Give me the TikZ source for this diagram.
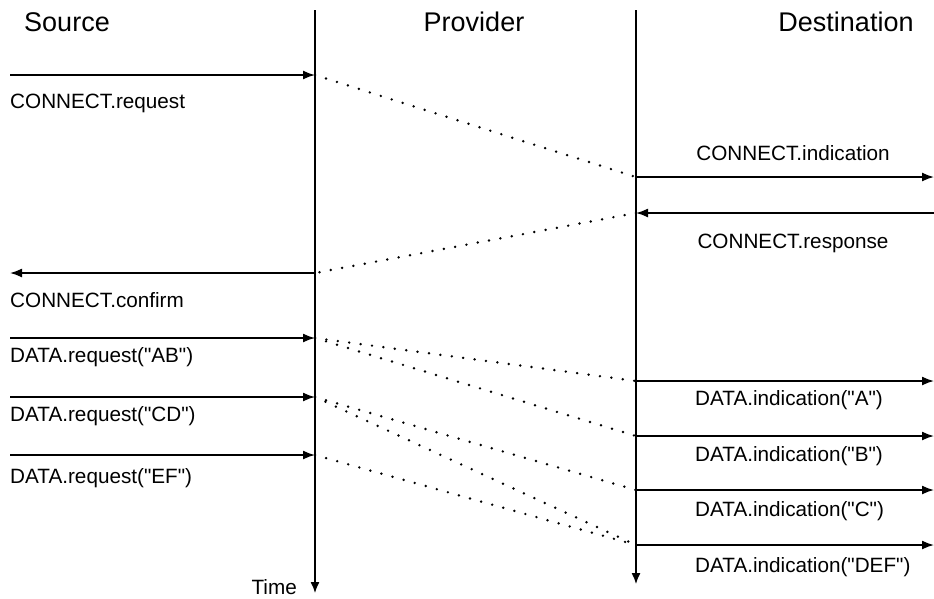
\documentclass[tikz,border=0pt]{standalone}
\usepackage{fontspec}
\setmainfont{Liberation Sans}[Ligatures=TeXOff]
\usetikzlibrary{positioning,arrows.meta}

\begin{document}
\begin{tikzpicture}[x=1pt,y=-1pt,
    msg/.style={line width=1.6pt,-{Latex[length=12pt,width=9pt]}},
    life/.style={line width=1.3pt,-{Latex[length=11pt,width=9pt]}},
    pdu/.style={line width=2.7pt,line cap=round,dash pattern=on 0pt off 11.5pt},
    lbl/.style={font=\fontsize{20.7}{24}\selectfont,inner sep=0pt},
    hdr/.style={font=\fontsize{27}{32}\selectfont,inner sep=0pt}]
    \useasboundingbox (0,0) rectangle (934,598);
    % Lifelines
    \coordinate (srcTop) at (315,10);
    \coordinate (srcEnd) at (315,593);
    \coordinate (dstTop) at (636,10);
    \coordinate (dstEnd) at (636,584);
    \draw[life] (srcTop) -- (srcEnd);
    \draw[life] (dstTop) -- (dstEnd);
    \node[hdr] (source) at (67,22) {Source};
    \node[hdr] (provider) at (474,22) {Provider};
    \node[hdr] (dest) at (846,22) {Destination};
    \node[lbl,anchor=east] (time) at (297,587) {Time};
    % Points on the lifelines
    \coordinate (conReq) at (315,75);
    \coordinate (conInd) at (636,177);
    \coordinate (conRsp) at (636,213);
    \coordinate (conCnf) at (315,273);
    \coordinate (reqAB) at (315,338);
    \coordinate (reqCD) at (315,397);
    \coordinate (reqEF) at (315,455);
    \coordinate (indA) at (636,381);
    \coordinate (indB) at (636,436);
    \coordinate (indC) at (636,490);
    \coordinate (indDEF) at (636,545);
    % Free ends
    \coordinate (userReq) at (10,75);
    \coordinate (userInd) at (934,177);
    \coordinate (userRsp) at (934,213);
    \coordinate (userCnf) at (10,273);
    \coordinate (userAB) at (10,338);
    \coordinate (userCD) at (10,397);
    \coordinate (userEF) at (10,455);
    \coordinate (userA) at (934,381);
    \coordinate (userB) at (934,436);
    \coordinate (userC) at (934,490);
    \coordinate (userDEF) at (934,545);
    % Connection set-up
    \draw[msg] (userReq) -- (conReq);
    \node[lbl,anchor=west] (lblReq) at (10,103) {CONNECT.request};
    \draw[pdu] (conReq) -- (conInd);
    \draw[msg] (conInd) -- (userInd);
    \node[lbl] (lblInd) at (793,153) {CONNECT.indication};
    \draw[msg] (userRsp) -- (conRsp);
    \node[lbl] (lblRsp) at (793,243) {CONNECT.response};
    \draw[pdu] (conRsp) -- (conCnf);
    \draw[msg] (conCnf) -- (userCnf);
    \node[lbl,anchor=west] (lblCnf) at (10,300) {CONNECT.confirm};
    % Data transfer
    \draw[msg] (userAB) -- (reqAB);
    \node[lbl,anchor=west] (lblAB) at (10,357) {DATA.request("AB")};
    \draw[msg] (userCD) -- (reqCD);
    \node[lbl,anchor=west] (lblCD) at (10,416) {DATA.request("CD")};
    \draw[msg] (userEF) -- (reqEF);
    \node[lbl,anchor=west] (lblEF) at (10,478) {DATA.request("EF")};
    \draw[pdu] (reqAB) -- (indA);
    \draw[pdu] (reqAB) -- (indB);
    \draw[pdu] (reqCD) -- (indC);
    \draw[pdu] (reqCD) -- (indDEF);
    \draw[pdu] (reqEF) -- (indDEF);
    \draw[msg] (indA) -- (userA);
    \node[lbl,anchor=west] (lblA) at (695,400) {DATA.indication("A")};
    \draw[msg] (indB) -- (userB);
    \node[lbl,anchor=west] (lblB) at (695,456) {DATA.indication("B")};
    \draw[msg] (indC) -- (userC);
    \node[lbl,anchor=west] (lblC) at (695,511) {DATA.indication("C")};
    \draw[msg] (indDEF) -- (userDEF);
    \node[lbl,anchor=west] (lblDEF) at (695,567) {DATA.indication("DEF")};
\end{tikzpicture}
\end{document}
